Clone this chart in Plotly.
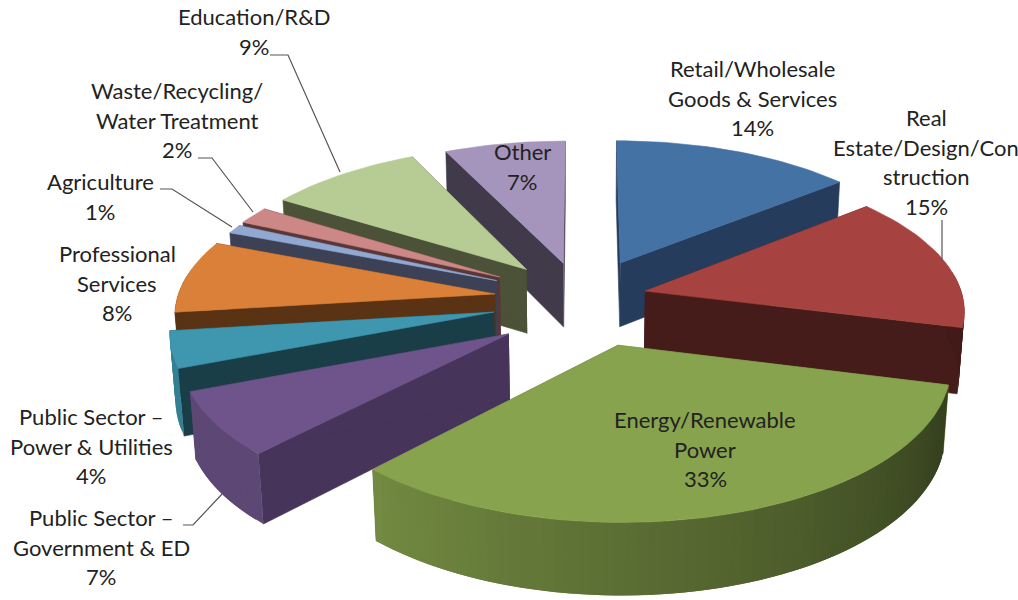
import numpy as np
import plotly.graph_objects as go

# --- data ---
categories = ["Retail/Wholesale\nGoods & Services", "Real\nEstate/Design/Con\nstruction",
              "Energy/Renewable\nPower", "Public Sector \u2013\nGovernment & ED",
              "Public Sector \u2013\nPower & Utilities", "Professional\nServices",
              "Agriculture", "Waste/Recycling/\nWater Treatment", "Education/R&D", "Other"]
percent = [14, 15, 33, 7, 4, 8, 1, 2, 9, 7]
explode = [85, 70, 100, 88, 88, 89, 92, 93, 86, 78]
top_colors = ["#4472A4", "#A64340", "#87A34D", "#6E548A", "#3E96AF",
              "#DA8038", "#91A8D2", "#CD8787", "#B7CC94", "#A594BB"]
wall_colors = ["#263C5C", "#461C1A", "#5F7438", "#46345A", "#193E48",
               "#5A3214", "#3C4155", "#5A3737", "#4B5237", "#413A4B"]

# --- style / layout constants ---
W, H = 1018, 600
CX, CY = 580, 297
RADIUS, THICK = 318, 74
TILT = np.radians(27)
K = 0.00042
DRAW_ORDER = [9, 0, 8, 7, 6, 5, 4, 3, 1, 2]
RADIUS_SCALE = [1, 1, 1, 1, 1, 1, 0.965, 0.965, 1, 1]
NUDGE = [(5, 0), (-3, 1), (9, 3), (3, 14), (0, 5), (3, 2), (0, 0), (0, 0), (2, 1), (0, 0)]
LABEL_ANCHORS = [(752, 68.5), (926, 117.5), (705, 419.5), (101, 517.5), (91, 416.5),
                 (117, 253.5), (100, 181.5), (177, 90.5), (254, 16.5), (522, 151.5)]
LINE_STEP = 29.6
LEADERS = ["M 942 220 L 942 260",
           "M 270 55 L 288 55 L 340 172",
           "M 198 158 L 212 158 L 253 212",
           "M 160 189 L 172 189 L 232 227",
           "M 183 525 L 193 525 L 223 493"]


def project(x, y, z, nudge=(0, 0)):
    depth = y * np.cos(TILT) - z * np.sin(TILT)
    s = 1 / (1 + K * depth)
    return (CX + nudge[0] + s * x,
            CY + nudge[1] - s * (y * np.sin(TILT) + z * np.cos(TILT)))


def shade(hex_color, f):
    rgb = [int(hex_color[i:i + 2], 16) for i in (1, 3, 5)]
    return "rgb(%d,%d,%d)" % tuple(min(255, c * f) for c in rgb)


def face(x, y, color, name=None, width=0.6):
    return go.Scatter(x=x, y=y, mode="lines", fill="toself", fillcolor=color,
                      line=dict(color=color, width=width), showlegend=False,
                      name=name or "", hoverinfo="name" if name else "skip")


fractions = np.array(percent) / sum(percent) * 2 * np.pi
ends = np.cumsum(fractions)
starts = ends - fractions

fig = go.Figure()
for i in DRAW_ORDER:
    t0, t1 = starts[i], ends[i]
    mid = (t0 + t1) / 2
    ax, ay = explode[i] * np.sin(mid), explode[i] * np.cos(mid)
    th = np.linspace(t0, t1, max(6, int(percent[i] * 2)))
    r = RADIUS * RADIUS_SCALE[i]
    ox, oy = ax + r * np.sin(th), ay + r * np.cos(th)

    # radial cut walls
    for ex, ey in ((ox[0], oy[0]), (ox[-1], oy[-1])):
        px, py = project(np.array([ax, ex, ex, ax]), np.array([ay, ey, ey, ay]),
                         np.array([0, 0, -THICK, -THICK]), NUDGE[i])
        fig.add_trace(face(px, py, wall_colors[i]))

    # outer rim, shaded band by band; each band overlaps the next to hide seams
    for a in range(len(th) - 1):
        if np.cos((th[a] + th[a + 1]) / 2) > 0.15:
            continue
        deg = np.degrees((th[a] + th[a + 1]) / 2)
        f = np.clip(0.38 + 0.47 * (deg - 104) / 119, 0.40, 0.85)
        color = wall_colors[i] if deg > 263 else shade(top_colors[i], f)
        b = min(a + 2, len(th) - 1)
        sx = np.r_[ox[a:b + 1], ox[a:b + 1][::-1]]
        sy = np.r_[oy[a:b + 1], oy[a:b + 1][::-1]]
        sz = np.r_[np.zeros(b - a + 1), -THICK * np.ones(b - a + 1)]
        px, py = project(sx, sy, sz, NUDGE[i])
        fig.add_trace(face(px, py, color, width=0))

    # top surface
    px, py = project(np.r_[ax, ox, ax], np.r_[ay, oy, ay], np.zeros(len(th) + 2), NUDGE[i])
    fig.add_trace(face(px, py, top_colors[i],
                       name=categories[i].replace("\n", " ") + " %d%%" % percent[i]))

annotations = []
for label, pct, (lx, ly) in zip(categories, percent, LABEL_ANCHORS):
    lines = label.split("\n") + ["%d%%" % pct]
    for n, line in enumerate(lines):
        annotations.append(dict(x=lx, y=ly + n * LINE_STEP, text=line, showarrow=False,
                                xanchor="center", yanchor="middle",
                                font=dict(family="Lato", size=22, color="#222222")))

shapes = [dict(type="path", path=p, line=dict(color="#555555", width=1.2)) for p in LEADERS]

fig.update_layout(width=W, height=H, margin=dict(l=0, r=0, t=0, b=0),
                  paper_bgcolor="white", plot_bgcolor="white",
                  xaxis=dict(range=[0, W], visible=False),
                  yaxis=dict(range=[H, 0], visible=False),
                  showlegend=False, annotations=annotations, shapes=shapes)
fig.write_html("out.html", config={"displayModeBar": False},
               post_script="document.body.style.margin='0';")
